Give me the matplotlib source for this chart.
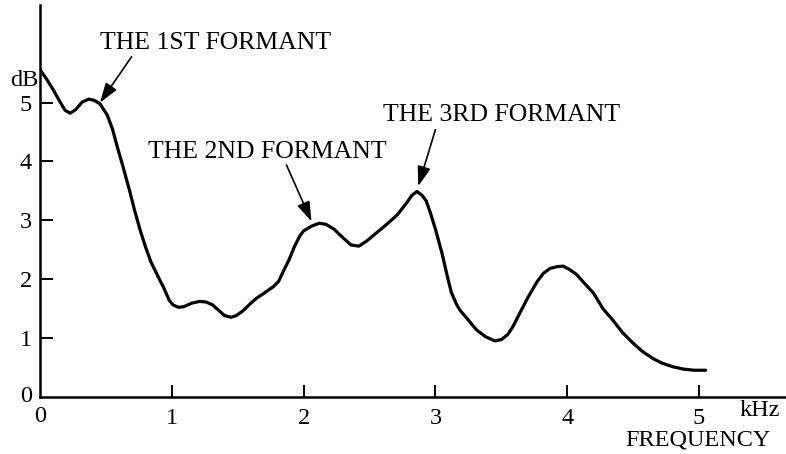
import matplotlib
matplotlib.use("Agg")
import matplotlib.pyplot as plt

# Spectrum envelope of a vowel: level (dB) against frequency (kHz)
freq_khz = [0.00, 0.05, 0.10, 0.15, 0.19, 0.23, 0.27, 0.32, 0.37, 0.41,
            0.455, 0.51, 0.55, 0.59, 0.63, 0.68, 0.72, 0.76, 0.80, 0.84,
            0.89, 0.935, 0.98, 1.01, 1.05, 1.09, 1.15, 1.21, 1.26, 1.31,
            1.36, 1.40, 1.45, 1.49, 1.54, 1.59, 1.64, 1.70, 1.77, 1.81,
            1.85, 1.89, 1.93, 1.97, 2.00, 2.06, 2.12, 2.17, 2.23, 2.30,
            2.36, 2.42, 2.48, 2.55, 2.63, 2.71, 2.78, 2.82, 2.86, 2.90,
            2.93, 2.96, 3.00, 3.05, 3.09, 3.12, 3.16, 3.19, 3.24, 3.31,
            3.38, 3.45, 3.50, 3.55, 3.59, 3.64, 3.70, 3.77, 3.82, 3.87,
            3.92, 3.97, 4.02, 4.07, 4.13, 4.20, 4.27, 4.35, 4.42, 4.50,
            4.57, 4.65, 4.72, 4.80, 4.88, 4.96, 5.05]
level_db = [5.56, 5.40, 5.22, 5.02, 4.87, 4.82, 4.88, 5.01, 5.06, 5.04,
            4.98, 4.79, 4.55, 4.22, 3.91, 3.50, 3.15, 2.83, 2.55, 2.30,
            2.07, 1.87, 1.64, 1.56, 1.52, 1.53, 1.59, 1.62, 1.61, 1.56,
            1.46, 1.38, 1.35, 1.38, 1.46, 1.57, 1.67, 1.76, 1.87, 1.96,
            2.15, 2.33, 2.55, 2.73, 2.82, 2.90, 2.95, 2.93, 2.85, 2.70,
            2.58, 2.56, 2.65, 2.78, 2.93, 3.09, 3.29, 3.42, 3.49, 3.42,
            3.33, 3.14, 2.85, 2.44, 2.05, 1.78, 1.57, 1.46, 1.33, 1.14,
            1.02, 0.95, 0.97, 1.06, 1.20, 1.42, 1.68, 1.95, 2.10, 2.18,
            2.21, 2.22, 2.16, 2.08, 1.93, 1.76, 1.50, 1.29, 1.09, 0.91,
            0.77, 0.65, 0.57, 0.51, 0.47, 0.45, 0.45]

x_ticks = [0, 1, 2, 3, 4, 5]
y_ticks = [0, 1, 2, 3, 4, 5]

# Formant annotations: label, text anchor, arrow tail, arrow head
formant_labels = ["THE 1ST FORMANT", "THE 2ND FORMANT", "THE 3RD FORMANT"]
label_pos = [(0.455, 6.02), (0.82, 4.16), (2.60, 4.79)]
arrow_tail = [(0.695, 5.78), (1.87, 3.94), (3.00, 4.54)]
arrow_head = [(0.455, 5.00), (2.06, 2.98), (2.87, 3.58)]

plt.rcParams['font.family'] = ['Liberation Serif', 'DejaVu Serif']

LABEL_SIZE = 18.5
TICK_SIZE = 17.5

fig = plt.figure(figsize=(7.86, 4.54), dpi=100)
ax = fig.add_axes([40 / 786, 57.3 / 454, 746 / 786, 391.7 / 454])
ax.set_xlim(0, 5.66)
ax.set_ylim(0, 6.66)

ax.plot(freq_khz, level_db, color='black', lw=2.3, solid_capstyle='round',
        solid_joinstyle='round')

for side in ('top', 'right'):
    ax.spines[side].set_visible(False)
for side in ('left', 'bottom'):
    ax.spines[side].set_linewidth(1.8)

ax.set_xticks(x_ticks[1:])
ax.set_xticklabels([str(v) for v in x_ticks[1:]])
ax.set_yticks(y_ticks[1:])
ax.set_yticklabels([str(v) for v in y_ticks[1:]])
ax.tick_params(axis='both', direction='in', length=9, width=1.4,
               labelsize=TICK_SIZE, pad=6)
ax.tick_params(axis='x', pad=8)

# shared origin labels
ax.text(0, -0.16, "0", ha='center', va='top', fontsize=TICK_SIZE, clip_on=False)
ax.text(-0.06, 0.0, "0", ha='right', va='center', fontsize=TICK_SIZE, clip_on=False)

ax.text(-0.01, 5.37, "dB", ha='right', va='center', fontsize=TICK_SIZE, clip_on=False)
ax.text(5.46, -0.23, "kHz", ha='center', va='center', fontsize=TICK_SIZE, clip_on=False)
ax.text(4.99, -0.74, "FREQUENCY", ha='center', va='center', fontsize=TICK_SIZE,
        clip_on=False)

for label, pos, tail, head in zip(formant_labels, label_pos, arrow_tail, arrow_head):
    ax.text(pos[0], pos[1], label, ha='left', va='center', fontsize=LABEL_SIZE)
    ax.annotate("", xy=head, xytext=tail,
                arrowprops=dict(arrowstyle='-|>,head_length=0.6,head_width=0.2',
                                mutation_scale=20, lw=1.2, color='black',
                                shrinkA=0, shrinkB=0))

fig.savefig("out.png", dpi=100)
